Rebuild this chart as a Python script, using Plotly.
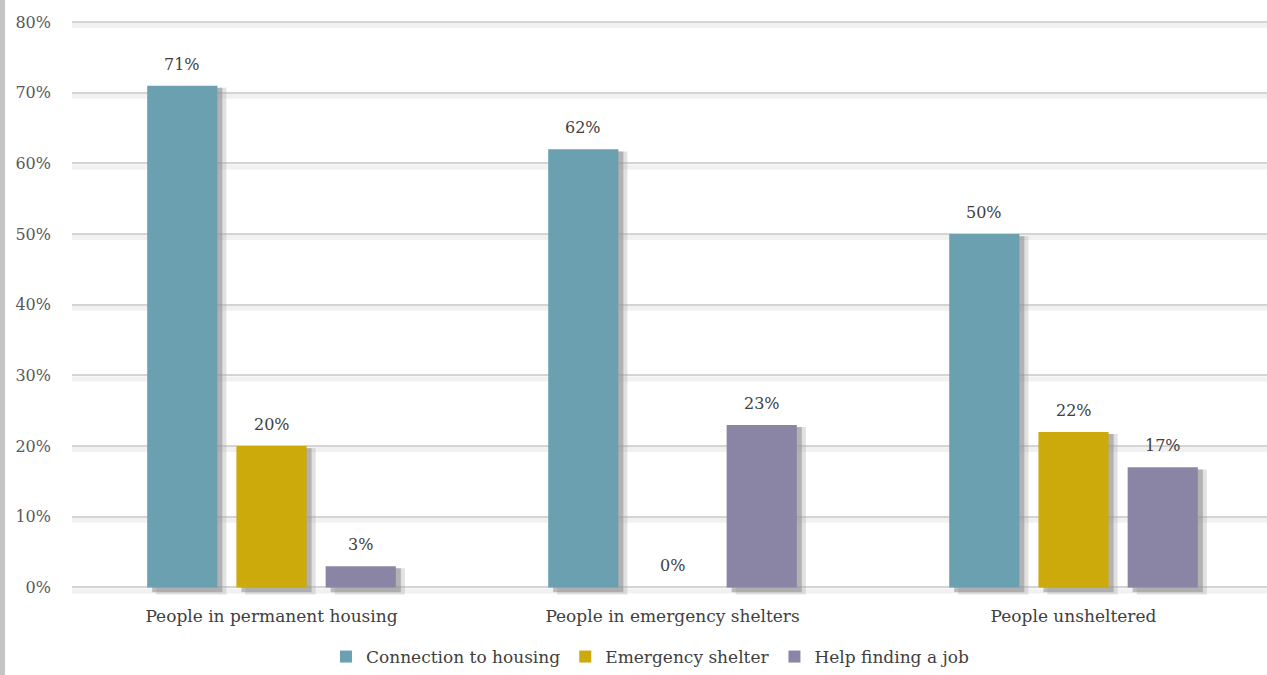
import plotly.graph_objects as go
import numpy as np

# Survey results: share of respondents naming each need
categories = ["People in permanent housing", "People in emergency shelters", "People unsheltered"]
series_names = ["Connection to housing", "Emergency shelter", "Help finding a job"]
connection_to_housing = [71, 62, 50]
emergency_shelter = [20, 0, 22]
help_finding_job = [3, 23, 17]
series_values = [connection_to_housing, emergency_shelter, help_finding_job]
colors = ["#6ba0b1", "#ccaa0c", "#8a85a4"]

y_ticks = list(range(0, 81, 10))
y_tick_labels = [f"{t}%" for t in y_ticks]

FONT = "DejaVu Serif"
slot = 0.2225          # distance between bar centres within a group
bar_w = 0.175          # bar width in category units
px = 1 / 400           # one pixel in category units

fig = go.Figure()

base_x = np.arange(len(categories))

# soft drop shadows behind each bar
for i, vals in enumerate(series_values):
    off = (i - 1) * slot
    for shift, col, extra in [(9 * px, "rgba(170,170,170,0.35)", 1.0),
                              (5 * px, "rgba(140,140,140,0.55)", 0.7)]:
        fig.add_trace(go.Bar(
            x=base_x + off + shift, y=[v + extra - 0.3 if v > 0 else 0 for v in vals],
            base=-extra, width=bar_w, marker=dict(color=col, line=dict(width=0)),
            showlegend=False, hoverinfo="skip"))

for i, (name, vals) in enumerate(zip(series_names, series_values)):
    off = (i - 1) * slot
    fig.add_trace(go.Bar(
        x=base_x + off, y=vals, width=bar_w, name=name,
        marker=dict(color=colors[i], line=dict(width=0))))
    for xi, v in zip(base_x, vals):
        fig.add_annotation(
            x=xi + off, y=v, text=f"{v}%", showarrow=False,
            yanchor="bottom", yshift=10,
            font=dict(family=FONT, size=16, color="#404040"))

# grid lines with a faint shadow band below each
for t in y_ticks:
    fig.add_shape(type="rect", xref="paper", x0=0, x1=1, yref="y",
                  ysizemode="pixel", yanchor=t, y0=-1, y1=-6,
                  fillcolor="rgba(232,232,232,0.6)", line=dict(width=0), layer="below")

# frame line along the left edge
fig.add_shape(type="rect", xref="paper", yref="paper", x0=-72 / 1195, x1=-67 / 1195,
              y0=-2, y1=2, fillcolor="#c4c4c4", line=dict(width=0), layer="below")

fig.update_layout(
    width=1267, height=675,
    margin=dict(l=72, r=0, t=20, b=77),
    barmode="overlay",
    plot_bgcolor="white", paper_bgcolor="white",
    font=dict(family=FONT, color="#404040"),
    xaxis=dict(range=[-0.4975, 2.4825], tickvals=list(base_x), ticktext=categories,
               showgrid=False, zeroline=False, ticks="", showline=False,
               ticklabelstandoff=6,
               tickfont=dict(family=FONT, size=17, color="#404040")),
    yaxis=dict(range=[-1.5, 80.3], tickvals=y_ticks, ticktext=y_tick_labels,
               showgrid=True, gridcolor="#d4d4d4", gridwidth=2, zeroline=False,
               ticks="", ticklabelstandoff=20,
               tickfont=dict(family=FONT, size=16, color="#595959")),
    legend=dict(orientation="h", xref="container", x=0.513, xanchor="center",
                yref="container", y=0.0, yanchor="bottom",
                font=dict(family=FONT, size=17, color="#404040"),
                itemwidth=30, traceorder="normal"),
    showlegend=True,
)

fig.write_html("out.html")
